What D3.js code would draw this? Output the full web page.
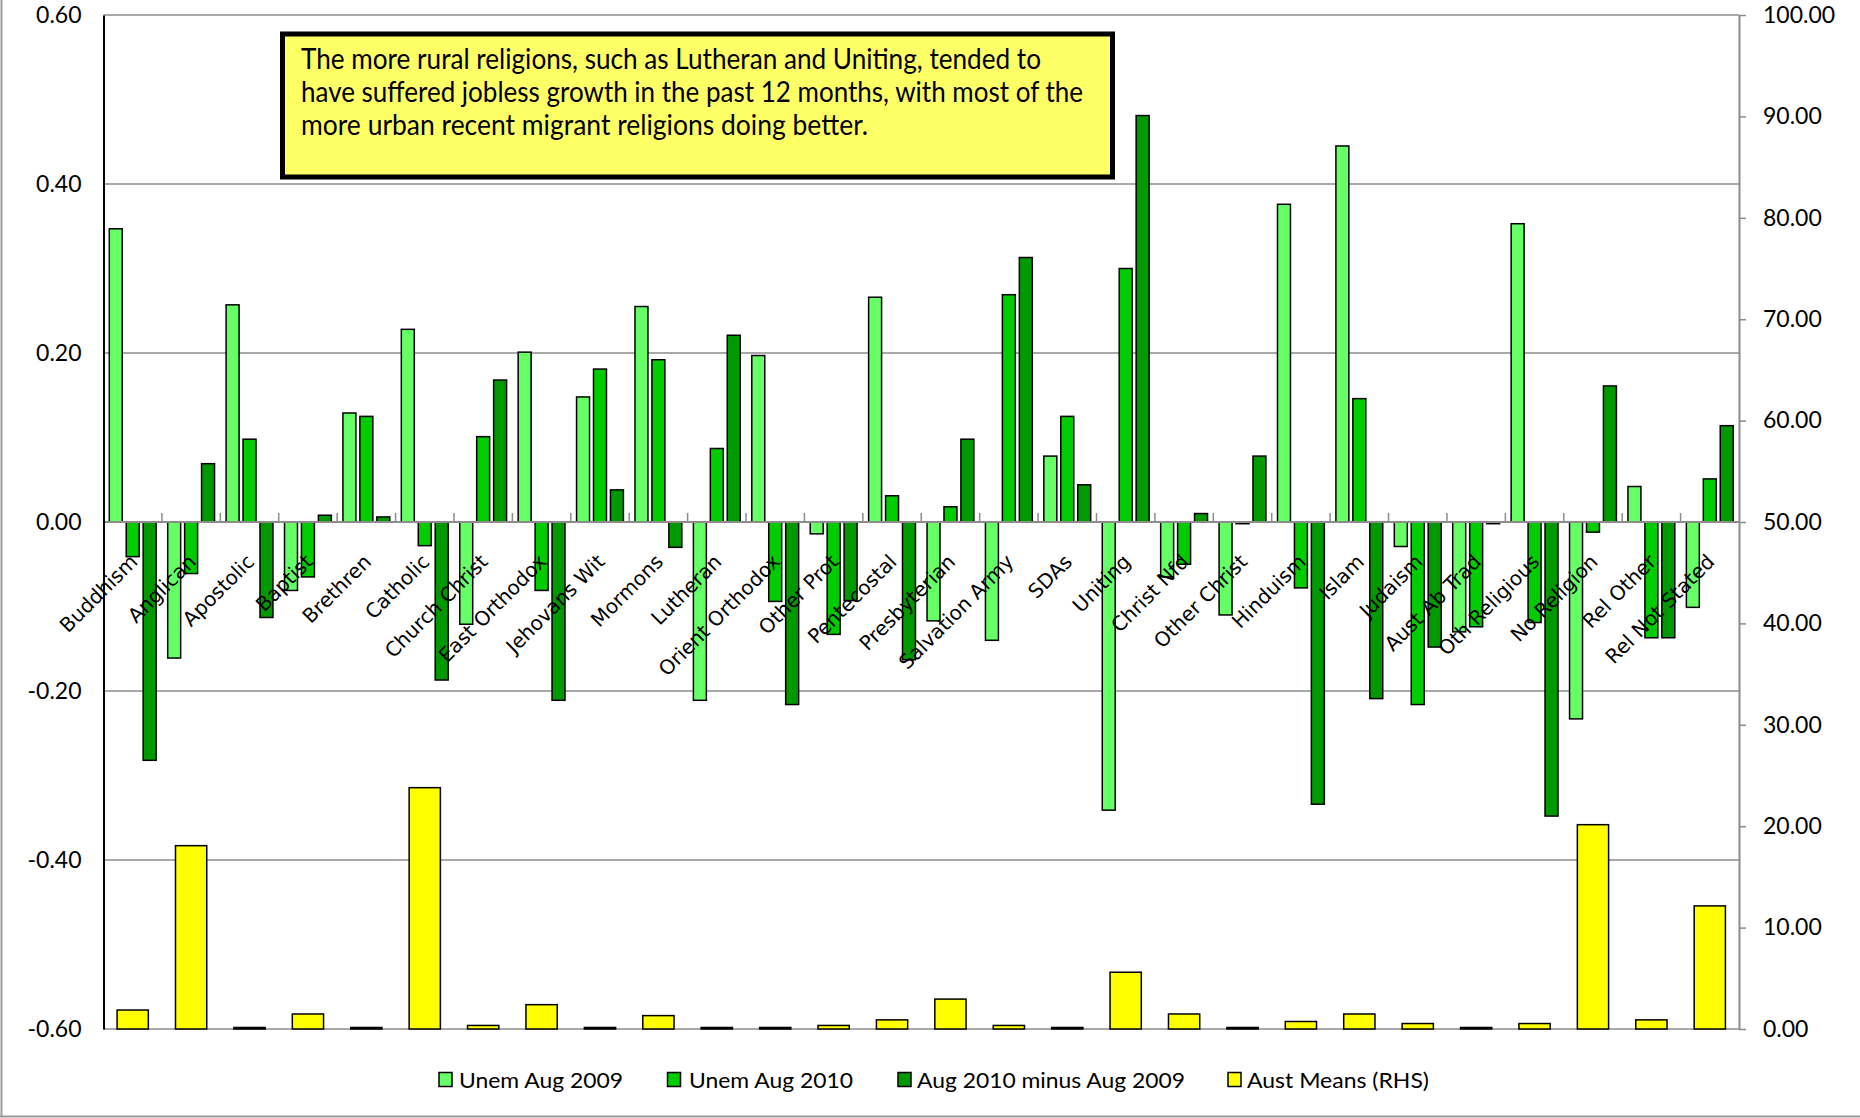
<!DOCTYPE html>
<html>
<head>
<meta charset="utf-8">
<script src="https://cdn.jsdelivr.net/npm/d3@7/dist/d3.min.js"></script>
<style>
  html, body { margin: 0; padding: 0; background: #fff; }
  svg { display: block; }
</style>
</head>
<body>
<svg id="chart" width="1860" height="1118"></svg>
<script>
// Religion categories along the x axis
const categories = [
  "Buddhism", "Anglican", "Apostolic", "Baptist", "Brethren", "Catholic",
  "Church Christ", "East Orthodox", "Jehovans Wit", "Mormons", "Lutheran",
  "Orient Orthodox", "Other Prot", "Pentecostal", "Presbyterian",
  "Salvation Army", "SDAs", "Uniting", "Christ Nfd", "Other Christ",
  "Hinduism", "Islam", "Judaism", "Aust Ab Trad", "Oth Religious",
  "No Religion", "Rel Other", "Rel Not Stated"
];

// Left-hand axis series
const unemAug2009 = [
  0.347, -0.161, 0.257, -0.081, 0.129, 0.228, -0.121, 0.201, 0.148, 0.255,
  -0.211, 0.197, -0.014, 0.266, -0.117, -0.140, 0.078, -0.341, -0.065, -0.110,
  0.376, 0.445, -0.029, -0.130, 0.353, -0.233, 0.042, -0.101
];
const unemAug2010 = [
  -0.041, -0.061, 0.098, -0.065, 0.125, -0.028, 0.101, -0.081, 0.181, 0.192,
  0.087, -0.094, -0.133, 0.031, 0.018, 0.269, 0.125, 0.300, -0.050, -0.002,
  -0.078, 0.146, -0.216, -0.124, -0.119, -0.012, -0.137, 0.051
];
const aug2010MinusAug2009 = [
  -0.282, 0.069, -0.113, 0.008, 0.006, -0.187, 0.168, -0.211, 0.038, -0.030,
  0.221, -0.216, -0.093, -0.163, 0.098, 0.313, 0.044, 0.481, 0.010, 0.078,
  -0.334, -0.209, -0.148, -0.002, -0.348, 0.161, -0.137, 0.114
];

// Right-hand axis series
const austMeans = [
  1.87, 18.08, 0.15, 1.48, 0.15, 23.8, 0.35, 2.4, 0.15, 1.32,
  0.15, 0.15, 0.35, 0.9, 2.95, 0.35, 0.15, 5.6, 1.48, 0.15,
  0.74, 1.48, 0.54, 0.15, 0.54, 20.15, 0.9, 12.14
];

// Tick values
const leftTicks = [0.6, 0.4, 0.2, 0, -0.2, -0.4, -0.6];
const rightTicks = [0, 10, 20, 30, 40, 50, 60, 70, 80, 90, 100];

const seriesNames = ["Unem Aug 2009", "Unem Aug 2010", "Aug 2010 minus Aug 2009", "Aust Means (RHS)"];

const noteLines = [
  "The more rural religions, such as Lutheran and Uniting, tended to",
  "have suffered jobless growth in the past 12 months, with most of the",
  "more urban recent migrant religions doing better."
];

// ---- layout ----
const plot = { left: 103.5, right: 1739, top: 15, bottom: 1029 };
const greens = ["#66ff66", "#00cc00", "#009900"];
const yellow = "#ffff00";
const labelFont = "Lato, 'Open Sans', sans-serif";

const svg = d3.select("#chart");

// outer frame (left and bottom edges)
svg.append("line").attr("x1", 1.5).attr("x2", 1.5).attr("y1", 0).attr("y2", 1117)
  .attr("stroke", "#9a9a9a").attr("stroke-width", 2);
svg.append("line").attr("x1", 0).attr("x2", 1860).attr("y1", 1116.5).attr("y2", 1116.5)
  .attr("stroke", "#9a9a9a").attr("stroke-width", 2);

const x = d3.scaleBand().domain(categories).range([plot.left, plot.right]).padding(0);
const yL = d3.scaleLinear().domain([-0.6, 0.6]).range([plot.bottom, plot.top]);
const yR = d3.scaleLinear().domain([0, 100]).range([plot.bottom, plot.top]);
const cw = x.bandwidth();

// horizontal gridlines (the -0.60 one doubles as the baseline of the secondary bars)
svg.append("g").selectAll("line").data(leftTicks.filter(d => d !== 0)).join("line")
  .attr("x1", plot.left).attr("x2", plot.right)
  .attr("y1", d => yL(d)).attr("y2", d => yL(d))
  .attr("stroke", "#8c8c8c").attr("stroke-width", 1.5);

// green bars, three per category
const greenSeries = [unemAug2009, unemAug2010, aug2010MinusAug2009];
const barW = cw * 0.222;
const step = cw * 0.29;
greenSeries.forEach((vals, si) => {
  svg.append("g").selectAll("rect").data(vals).join("rect")
    .attr("x", (d, i) => x(categories[i]) + cw / 2 + (si - 1) * step - barW / 2)
    .attr("y", d => Math.min(yL(d), yL(0)))
    .attr("width", barW)
    .attr("height", d => Math.abs(yL(d) - yL(0)))
    .attr("fill", greens[si])
    .attr("stroke", "#000").attr("stroke-width", 1.5);
});

// yellow bars on the secondary axis
const yW = cw * 0.535;
svg.append("g").selectAll("rect").data(austMeans).join("rect")
  .attr("x", (d, i) => x(categories[i]) + cw / 2 - yW / 2)
  .attr("y", d => yR(d))
  .attr("width", yW)
  .attr("height", d => yR(0) - yR(d))
  .attr("fill", yellow)
  .attr("stroke", "#000").attr("stroke-width", 1.5);

// zero line with category boundary ticks
const zeroY = yL(0);
svg.append("line").attr("x1", plot.left).attr("x2", plot.right)
  .attr("y1", zeroY).attr("y2", zeroY)
  .attr("stroke", "#8c8c8c").attr("stroke-width", 2);
svg.append("g").selectAll("line").data(categories.slice(1)).join("line")
  .attr("x1", d => x(d)).attr("x2", d => x(d))
  .attr("y1", zeroY).attr("y2", zeroY - 9)
  .attr("stroke", "#8c8c8c").attr("stroke-width", 1.5);

// left axis
const leftAxis = svg.append("g").attr("transform", `translate(${plot.left},0)`)
  .call(d3.axisLeft(yL).tickValues(leftTicks).tickSize(0).tickSizeOuter(0)
    .tickPadding(22).tickFormat(d => d.toFixed(2)));
leftAxis.select(".domain").attr("stroke", "#000").attr("stroke-width", 2);
leftAxis.selectAll("text").attr("font-family", labelFont).attr("font-size", 23).attr("fill", "#000");

// right axis
const rightAxis = svg.append("g").attr("transform", `translate(${plot.right},0)`)
  .call(d3.axisRight(yR).tickValues(rightTicks).tickSize(7).tickSizeOuter(0)
    .tickPadding(17).tickFormat(d => d.toFixed(2)));
rightAxis.select(".domain").attr("stroke", "#8c8c8c").attr("stroke-width", 2);
rightAxis.selectAll(".tick line").attr("stroke", "#8c8c8c").attr("stroke-width", 1.5);
rightAxis.selectAll("text").attr("font-family", labelFont).attr("font-size", 23).attr("fill", "#000");

// rotated category labels
svg.append("g").selectAll("text").data(categories).join("text")
  .attr("transform", d => `translate(${x(d) + cw / 2 + 6},${zeroY + 41}) rotate(-45)`)
  .attr("text-anchor", "end")
  .attr("font-family", "'DejaVu Sans', Verdana, sans-serif")
  .attr("font-size", 20)
  .attr("fill", "#000")
  .text(d => d);

// annotation box
svg.append("rect").attr("x", 282.5).attr("y", 34).attr("width", 830).attr("height", 143)
  .attr("fill", "#ffff66").attr("stroke", "#000").attr("stroke-width", 5);
const noteWidths = [740, 782, 567];
svg.append("g").selectAll("text").data(noteLines).join("text")
  .attr("x", 301).attr("y", (d, i) => 69 + i * 33)
  .attr("font-family", labelFont).attr("font-size", 28).attr("fill", "#000")
  .attr("textLength", (d, i) => noteWidths[i]).attr("lengthAdjust", "spacingAndGlyphs")
  .text(d => d);

// legend
const legendItems = [
  { sq: 439, tx: 459, w: 164, color: greens[0] },
  { sq: 667.5, tx: 689, w: 164, color: greens[1] },
  { sq: 898, tx: 917, w: 268, color: greens[2] },
  { sq: 1228, tx: 1247, w: 182, color: yellow }
];
const lg = svg.append("g");
legendItems.forEach((it, i) => {
  lg.append("rect").attr("x", it.sq).attr("y", 1072.5).attr("width", 13).attr("height", 14)
    .attr("fill", it.color).attr("stroke", "#000").attr("stroke-width", 1.5);
  lg.append("text").attr("x", it.tx).attr("y", 1087.5)
    .attr("font-family", labelFont).attr("font-size", 22).attr("fill", "#000")
    .attr("textLength", it.w).attr("lengthAdjust", "spacingAndGlyphs")
    .text(seriesNames[i]);
});
</script>
</body>
</html>
